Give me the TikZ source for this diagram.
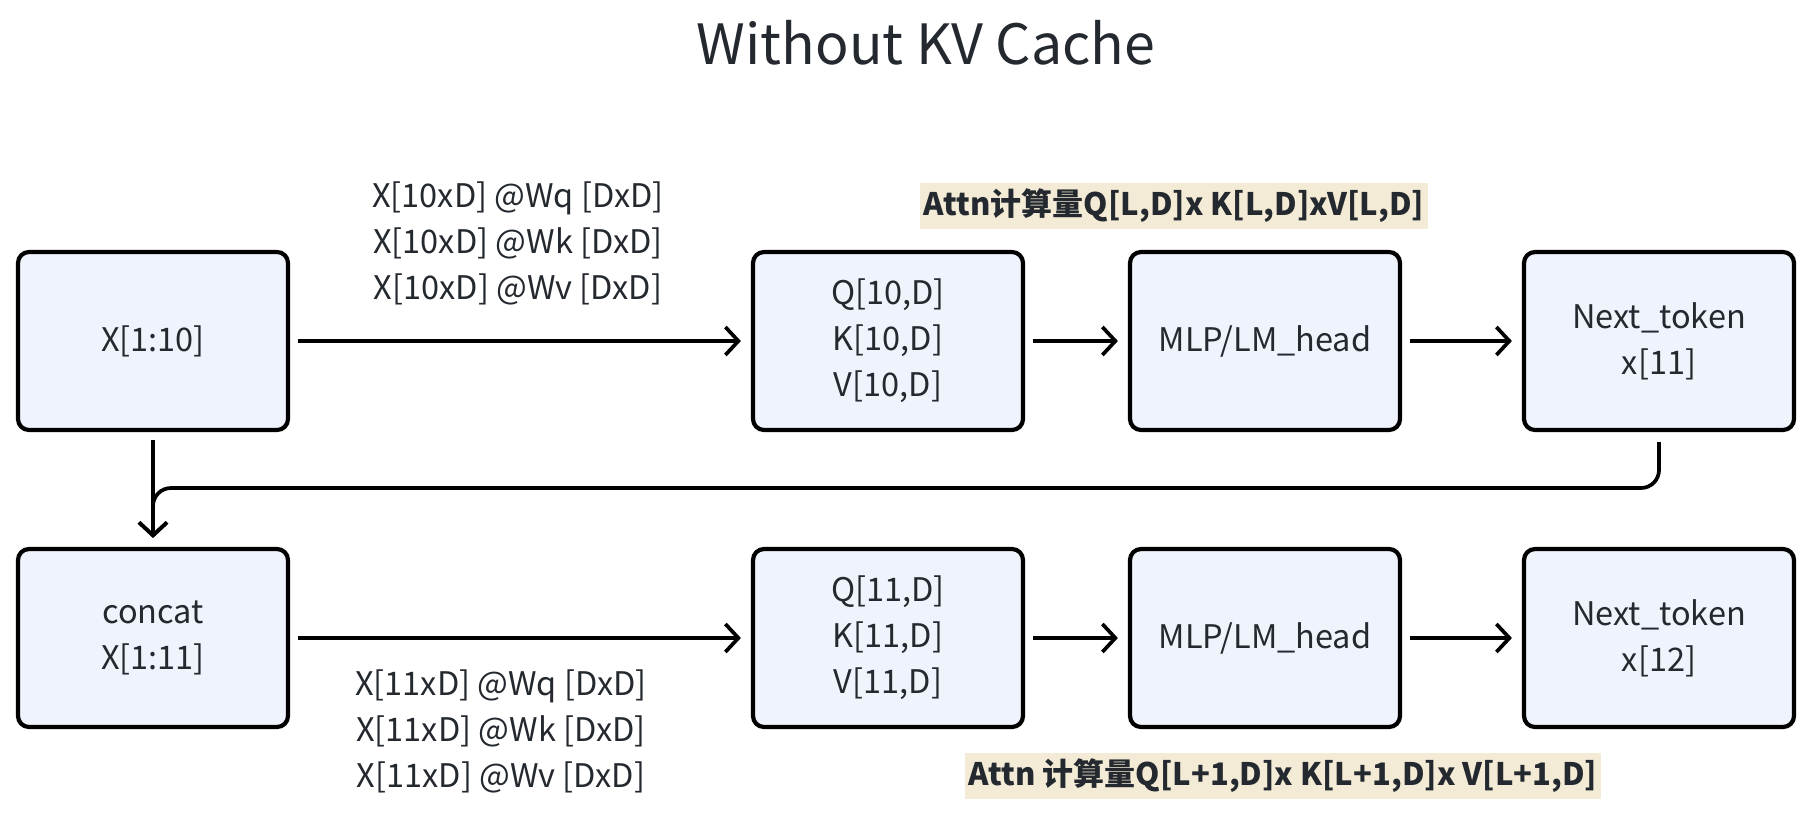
\documentclass[tikz,border=0pt]{standalone}
\usepackage{fontspec}
\setmainfont{Noto Sans CJK SC}
\usetikzlibrary{arrows.meta}
\definecolor{boxfill}{HTML}{EFF3FC}
\definecolor{txt}{HTML}{24292F}
\definecolor{hl}{HTML}{F3EBD6}
\tikzset{
  x=1pt, y=-1pt,
  blk/.style={draw=black, line width=4.2pt, fill=boxfill, rounded corners=11pt,
    minimum width=270pt, minimum height=178pt, align=center, text=txt,
    font=\fontsize{32.5}{46}\selectfont, inner sep=0pt},
  arr/.style={draw=black, line width=3.7pt,
    -{Straight Barb[length=13pt,width=28pt,line width=3.7pt]}},
  lbl/.style={text=txt, align=center, font=\fontsize{32.5}{46}\selectfont, inner sep=0pt},
  attn/.style={fill=hl, text=txt, font=\bfseries\fontsize{31}{38}\selectfont,
    inner xsep=4pt, inner ysep=6pt},
}
\begin{document}
\begin{tikzpicture}
\useasboundingbox (0,0) rectangle (1814,816);
\node[lbl, font=\fontsize{55.5}{62}\selectfont] (title) at (926,43) {Without KV Cache};

\node[blk] (x1) at (153,341) {X[1:10]};
\node[blk] (q1) at (888,341) {Q[10,D]\\K[10,D]\\V[10,D]};
\node[blk] (m1) at (1265,341) {MLP/LM\_head};
\node[blk] (n1) at (1659,341) {Next\_token\\x[11]};

\node[blk] (c1) at (153,638) {concat\\X[1:11]};
\node[blk] (q2) at (888,638) {Q[11,D]\\K[11,D]\\V[11,D]};
\node[blk] (m2) at (1265,638) {MLP/LM\_head};
\node[blk] (n2) at (1659,638) {Next\_token\\x[12]};

\node[lbl] (lbl1) at (518,243) {X[10xD] @Wq [DxD]\\X[10xD] @Wk [DxD]\\X[10xD] @Wv [DxD]};
\node[lbl] (lbl2) at (501,731) {X[11xD] @Wq [DxD]\\X[11xD] @Wk [DxD]\\X[11xD] @Wv [DxD]};
\node[attn] (attn1) at (1174,206) {Attn计算量Q[L,D]x K[L,D]xV[L,D]};
\node[attn] (attn2) at (1283,776) {Attn 计算量Q[L+1,D]x K[L+1,D]x V[L+1,D]};

\draw[arr, shorten <=8pt, shorten >=10pt] (x1.east) -- (q1.west);
\draw[arr, shorten <=8pt, shorten >=10pt] (q1.east) -- (m1.west);
\draw[arr, shorten <=8pt, shorten >=10pt] (m1.east) -- (n1.west);
\draw[arr, shorten <=8pt, shorten >=10pt] (c1.east) -- (q2.west);
\draw[arr, shorten <=8pt, shorten >=10pt] (q2.east) -- (m2.west);
\draw[arr, shorten <=8pt, shorten >=10pt] (m2.east) -- (n2.west);

\draw[arr, shorten <=8pt, shorten >=9pt] (x1.south) -- (c1.north);
\coordinate (fb1) at (1659,488);
\coordinate (fb2) at (153,488);
\draw[arr, rounded corners=18pt, shorten <=10pt, shorten >=9pt]
  (n1.south) -- (fb1) -- (fb2) -- (c1.north);
\end{tikzpicture}
\end{document}
